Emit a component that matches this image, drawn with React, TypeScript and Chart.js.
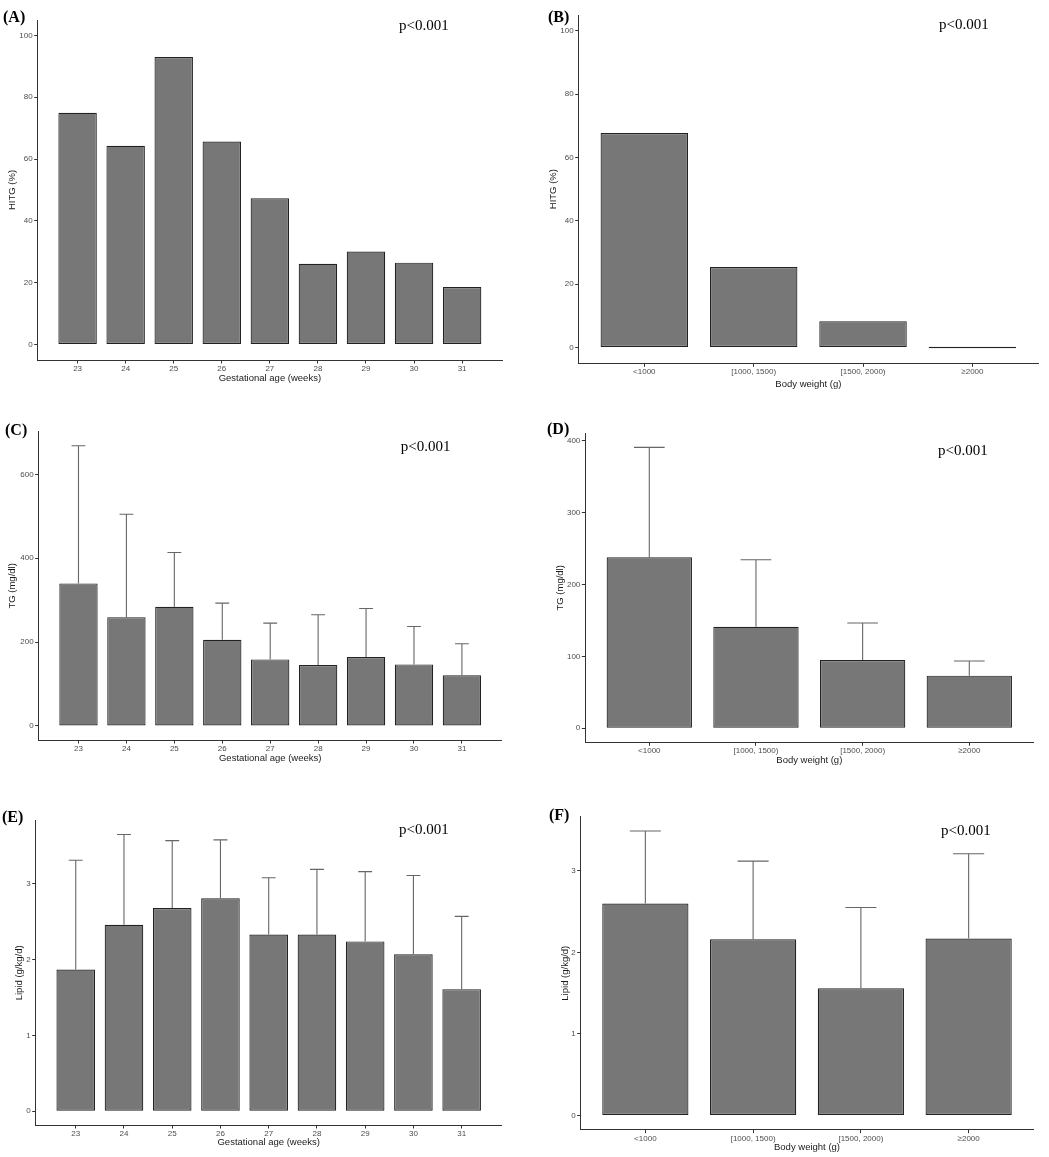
import { useEffect, useRef } from 'react';
import { Chart, registerables } from 'chart.js';

Chart.register(...registerables);

// categories
const gaWeeks = ['23', '24', '25', '26', '27', '28', '29', '30', '31'];
const bwGroups = ['<1000', '[1000, 1500)', '[1500, 2000)', '≥2000'];

// (A) / (B) HITG %
const hitgByGA = [75, 64.3, 93, 65.7, 47.3, 26.1, 30.1, 26.5, 18.6];
const hitgByBW = [67.7, 25.4, 8.3, 0];

// (C) / (D) TG mean and mean + SD
const tgMeanByGA = [340, 259.5, 284.3, 205.7, 158.8, 145.2, 164.3, 146.9, 120.7];
const tgUpperByGA = [668.3, 504.8, 413.6, 292.9, 245.2, 265.2, 280.2, 237.4, 196.2];
const tgMeanByBW = [237.8, 141.3, 95, 73.2];
const tgUpperByBW = [390.8, 234.5, 146.4, 93.6];

// (E) / (F) lipid mean and mean + SD
const lipidMeanByGA = [1.87, 2.46, 2.68, 2.81, 2.33, 2.33, 2.24, 2.07, 1.61];
const lipidUpperByGA = [3.31, 3.65, 3.57, 3.58, 3.08, 3.19, 3.16, 3.11, 2.57];
const lipidMeanByBW = [2.6, 2.16, 1.56, 2.17];
const lipidUpperByBW = [3.49, 3.12, 2.55, 3.21];

// tick labels
const hitgTicks = [0, 20, 40, 60, 80, 100];
const tgTicksGA = [0, 200, 400, 600];
const tgTicksBW = [0, 100, 200, 300, 400];
const lipidTicks = [0, 1, 2, 3];

const SANS = "'Liberation Sans', Arial, sans-serif";
const SERIF = "'Liberation Serif', 'Times New Roman', serif";

type Box = { left: number; top: number; width: number; height: number };
type Area = { left: number; top: number; right: number; bottom: number };

type PanelProps = {
  tag: string;
  categories: string[];
  values: number[];
  upper?: number[];
  yTicks: number[];
  yLimit?: number;
  xTitle: string;
  yTitle: string;
  box: Box;
  area: Area;
  edge: number;
  yTitleX: number;
  xTitleY: number;
  tagPos: [number, number];
  pPos: [number, number];
};

const Panel = (p: PanelProps) => {
  const chartRef = useRef<HTMLCanvasElement>(null);
  const chartInstance = useRef<Chart | null>(null);

  useEffect(() => {
    if (chartInstance.current) chartInstance.current.destroy();
    const ctx = chartRef.current?.getContext('2d');
    if (!ctx) return;

    // ggplot-style 5% expansion of the value range
    const top = p.yLimit ?? Math.max(...(p.upper ?? p.values));
    const lo = -0.05 * top;
    const hi = 1.05 * top;

    const errorBars = {
      id: 'errorBars',
      afterDatasetsDraw(chart: Chart) {
        if (!p.upper) return;
        const c = chart.ctx;
        const yScale = chart.scales.y;
        const meta = chart.getDatasetMeta(0);
        c.save();
        c.strokeStyle = '#666666';
        c.lineWidth = 1.1;
        meta.data.forEach((bar: any, i: number) => {
          const x = bar.x;
          const yMean = yScale.getPixelForValue(p.values[i]);
          const yUp = yScale.getPixelForValue(p.upper![i]);
          const half = bar.width * 0.18;
          c.beginPath();
          c.moveTo(x, yMean);
          c.lineTo(x, yUp);
          c.moveTo(x - half, yUp);
          c.lineTo(x + half, yUp);
          c.stroke();
        });
        c.restore();
      },
    };

    const tickFont = { family: SANS, size: 8 };
    const titleFont = { family: SANS, size: 9.5 };
    const grid = {
      display: true,
      drawOnChartArea: false,
      drawTicks: true,
      tickLength: 3.5,
      color: '#333333',
      lineWidth: 1,
      offset: false,
    };
    const border = { display: true, color: '#333333', width: 1 };

    chartInstance.current = new Chart(ctx, {
      type: 'bar',
      data: {
        datasets: [
          {
            data: p.values.map((v, i) => ({ x: i, y: v })),
            backgroundColor: '#777777',
            borderColor: '#222222',
            borderWidth: 1.2,
            borderSkipped: false,
            minBarLength: 1.5,
            barPercentage: 0.8,
            categoryPercentage: 1,
          },
        ],
      },
      options: {
        animation: false,
        responsive: false,
        layout: {
          padding: { left: 0, top: p.area.top, right: p.box.width - p.area.right, bottom: 0 },
        },
        plugins: { legend: { display: false }, tooltip: { enabled: false } },
        scales: {
          x: {
            type: 'linear',
            offset: false,
            bounds: 'data',
            min: -p.edge,
            max: p.categories.length - 1 + p.edge,
            afterBuildTicks: (s: any) => {
              s.ticks = p.categories.map((_, i) => ({ value: i }));
            },
            afterFit: (s: any) => {
              s.height = p.box.height - p.area.bottom;
            },
            ticks: {
              autoSkip: false,
              maxRotation: 0,
              padding: 0.5,
              color: '#4d4d4d',
              font: tickFont,
              callback: (v: any) => p.categories[v] ?? '',
            },
            grid,
            border,
            title: {
              display: true,
              text: p.xTitle,
              color: '#1a1a1a',
              font: titleFont,
              padding: { top: 0, bottom: p.box.height - p.xTitleY - 5.7 },
            },
          },
          y: {
            type: 'linear',
            bounds: 'data',
            min: lo,
            max: hi,
            afterBuildTicks: (s: any) => {
              s.ticks = p.yTicks.map((v) => ({ value: v }));
            },
            afterFit: (s: any) => {
              s.width = p.area.left;
            },
            ticks: {
              autoSkip: false,
              padding: 1.5,
              color: '#4d4d4d',
              font: tickFont,
              callback: (v: any) => String(v),
            },
            grid,
            border,
            title: {
              display: true,
              text: p.yTitle,
              color: '#1a1a1a',
              font: titleFont,
              padding: { top: p.yTitleX - 5.7, bottom: 0 },
            },
          },
        },
      } as any,
      plugins: [errorBars],
    });

    return () => {
      if (chartInstance.current) {
        chartInstance.current.destroy();
        chartInstance.current = null;
      }
    };
  }, []);

  return (
    <>
      <canvas
        ref={chartRef}
        width={p.box.width}
        height={p.box.height}
        style={{
          position: 'absolute',
          left: p.box.left,
          top: p.box.top,
          width: p.box.width,
          height: p.box.height,
        }}
      />
      <div
        style={{
          position: 'absolute',
          left: p.tagPos[0],
          top: p.tagPos[1] - 8,
          fontFamily: SERIF,
          fontWeight: 'bold',
          fontSize: 16,
          lineHeight: '16px',
          color: '#000',
        }}
      >
        {p.tag}
      </div>
      <div
        style={{
          position: 'absolute',
          left: p.pPos[0],
          top: p.pPos[1] - 7.5,
          fontFamily: SERIF,
          fontSize: 15,
          lineHeight: '15px',
          color: '#000',
        }}
      >
        {'p<0.001'}
      </div>
    </>
  );
};

const panels: PanelProps[] = [
  {
    tag: '(A)', categories: gaWeeks, values: hitgByGA, yTicks: hitgTicks, yLimit: 100,
    xTitle: 'Gestational age (weeks)', yTitle: 'HITG (%)',
    box: { left: 0, top: 0, width: 520, height: 385 },
    area: { left: 37.7, top: 20, right: 502, bottom: 360 },
    edge: 0.83, yTitleX: 12.5, xTitleY: 378, tagPos: [3, 16.5], pPos: [399, 25],
  },
  {
    tag: '(B)', categories: bwGroups, values: hitgByBW, yTicks: hitgTicks, yLimit: 100,
    xTitle: 'Body weight (g)', yTitle: 'HITG (%)',
    box: { left: 520, top: 0, width: 529, height: 390 },
    area: { left: 58.7, top: 15, right: 518, bottom: 363.3 },
    edge: 0.6, yTitleX: 33, xTitleY: 384, tagPos: [548, 16.5], pPos: [939, 24],
  },
  {
    tag: '(C)', categories: gaWeeks, values: tgMeanByGA, upper: tgUpperByGA, yTicks: tgTicksGA,
    xTitle: 'Gestational age (weeks)', yTitle: 'TG (mg/dl)',
    box: { left: 0, top: 385, width: 520, height: 385 },
    area: { left: 38.7, top: 46.7, right: 501.7, bottom: 355 },
    edge: 0.83, yTitleX: 12.5, xTitleY: 373.3, tagPos: [5, 430], pPos: [400.7, 446.7],
  },
  {
    tag: '(D)', categories: bwGroups, values: tgMeanByBW, upper: tgUpperByBW, yTicks: tgTicksBW,
    xTitle: 'Body weight (g)', yTitle: 'TG (mg/dl)',
    box: { left: 520, top: 390, width: 529, height: 380 },
    area: { left: 65.3, top: 43.3, right: 513.3, bottom: 352.3 },
    edge: 0.6, yTitleX: 40, xTitleY: 370, tagPos: [547, 429], pPos: [938, 450],
  },
  {
    tag: '(E)', categories: gaWeeks, values: lipidMeanByGA, upper: lipidUpperByGA, yTicks: lipidTicks,
    xTitle: 'Gestational age (weeks)', yTitle: 'Lipid (g/kg/d)',
    box: { left: 0, top: 770, width: 520, height: 387 },
    area: { left: 35.7, top: 50.7, right: 501.7, bottom: 355 },
    edge: 0.83, yTitleX: 19.7, xTitleY: 372.7, tagPos: [2, 817], pPos: [399, 829],
  },
  {
    tag: '(F)', categories: bwGroups, values: lipidMeanByBW, upper: lipidUpperByBW, yTicks: lipidTicks,
    xTitle: 'Body weight (g)', yTitle: 'Lipid (g/kg/d)',
    box: { left: 520, top: 770, width: 529, height: 387 },
    area: { left: 60.7, top: 46.7, right: 513.3, bottom: 359.7 },
    edge: 0.6, yTitleX: 45, xTitleY: 377.7, tagPos: [549, 815], pPos: [941, 830],
  },
];

const App = () => {
  return (
    <div
      style={{
        position: 'absolute',
        left: 0,
        top: 0,
        width: 1049,
        height: 1157,
        background: '#ffffff',
        overflow: 'hidden',
      }}
    >
      {panels.map((p) => (
        <Panel key={p.tag} {...p} />
      ))}
    </div>
  );
};

export default App;
